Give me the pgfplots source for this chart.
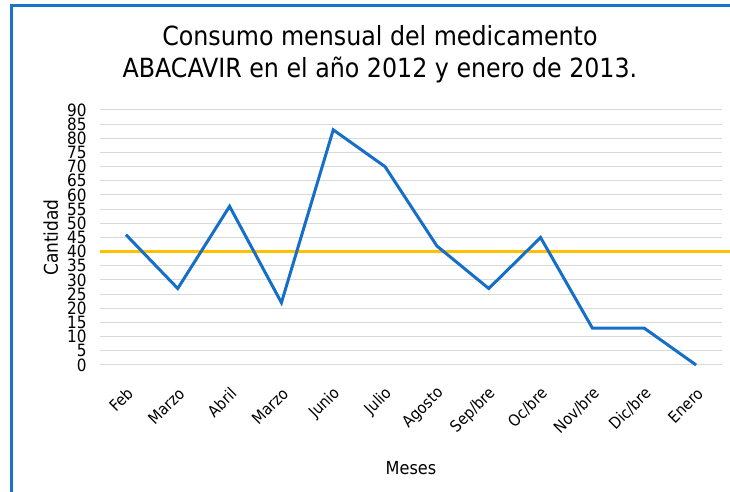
\documentclass[border=0pt]{standalone}
\usepackage{fontspec}
\setmainfont{DejaVu Sans Condensed}
\usepackage{pgfplots}
\pgfplotsset{compat=1.18}
\definecolor{lineblue}{RGB}{21,110,200}
\definecolor{gold}{RGB}{255,192,0}
\definecolor{gridgray}{RGB}{217,217,217}
\definecolor{frameblue}{RGB}{25,115,205}
\begin{document}
\begin{tikzpicture}
\path[use as bounding box] (0bp,0bp) rectangle (730bp,492bp);
\draw[frameblue, line width=3bp] (11.5bp,0bp) -- (11.5bp,486.5bp) -- (730bp,486.5bp);
\node[align=center, font=\fontsize{26.5}{32}\selectfont] at (380bp,438bp) {Consumo mensual del medicamento\\ABACAVIR en el año 2012 y enero de 2013.};
\begin{axis}[
  at={(100bp,127bp)}, anchor=south west, scale only axis,
  width=622bp, height=255bp,
  xmin=-0.5, xmax=11.5, ymin=0, ymax=90,
  ytick={0,5,...,90},
  xtick={0,...,11},
  xticklabels={Feb,Marzo,Abril,Marzo,Junio,Julio,Agosto,Sep/bre,Oc/bre,Nov/bre,Dic/bre,Enero},
  ymajorgrids, grid style={gridgray, line width=1bp},
  axis line style={draw=none}, tick style={draw=none},
  /pgf/number format/assume math mode=true,
  x tick label style={rotate=45, anchor=east, font=\fontsize{16}{16}\selectfont, yshift=-21bp, xshift=-12bp},
  y tick label style={font=\fontsize{17}{15}\selectfont, xshift=-10bp},
  ylabel={Cantidad}, ylabel style={font=\fontsize{19}{19}\selectfont, yshift=2bp},
  xlabel={Meses}, xlabel style={font=\fontsize{18}{18}\selectfont, yshift=-18bp},
  clip=false,
]
\addplot[gold, line width=3bp, no marks] coordinates {(-0.5,40) (11.66,40)};
\addplot[lineblue, line width=3bp, no marks, line join=miter] coordinates {(0,46) (1,27) (2,56) (3,22) (4,83) (5,70) (6,42) (7,27) (8,45) (9,13) (10,13) (11,0)};
\end{axis}
\end{tikzpicture}
\end{document}
